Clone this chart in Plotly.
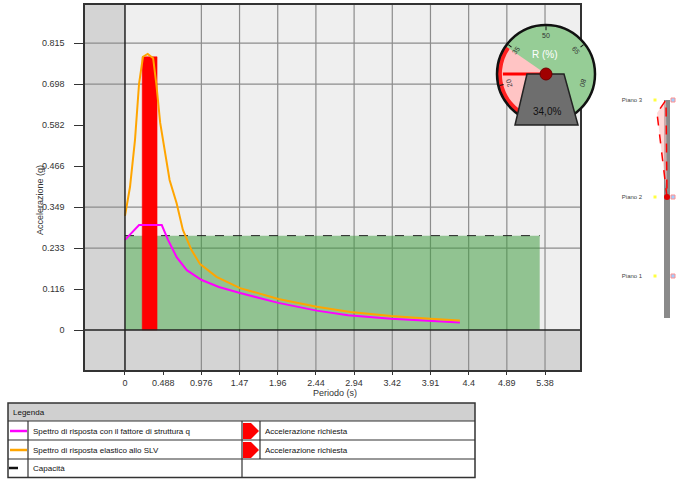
import math
import plotly.graph_objects as go

W, H = 698, 479

# ---- main spectrum data ----
period_orange = [0, 0.064, 0.128, 0.18, 0.23, 0.29, 0.36, 0.40, 0.45, 0.51, 0.57, 0.66, 0.74,
                 0.85, 0.96, 1.17, 1.47, 1.96, 2.45, 2.88, 3.4, 3.9, 4.28]
accel_orange = [0.324, 0.406, 0.54, 0.70, 0.776, 0.784, 0.772, 0.70, 0.588, 0.511, 0.426, 0.36, 0.284,
                0.227, 0.187, 0.151, 0.119, 0.088, 0.066, 0.051, 0.040, 0.032, 0.027]

period_magenta = [0, 0.09, 0.18, 0.47, 0.55, 0.66, 0.79, 0.98, 1.2, 1.47, 1.96, 2.45, 2.85, 3.4, 3.9, 4.28]
accel_magenta = [0.256, 0.277, 0.298, 0.298, 0.256, 0.207, 0.170, 0.142, 0.122, 0.105, 0.077, 0.055,
                 0.042, 0.032, 0.025, 0.021]

demand_period = 0.315
demand_width = 0.19
demand_accel = 0.776

capacity_period = [0, 5.30]
capacity_accel = [0.268, 0.268]

x_tickvals = [0, 0.488, 0.976, 1.464, 1.952, 2.44, 2.928, 3.416, 3.904, 4.392, 4.88, 5.368]
x_ticktext = ['0', '0.488', '0.976', '1.47', '1.96', '2.44', '2.94', '3.42', '3.91', '4.4', '4.89', '5.38']
y_tickvals = [0, 0.1164, 0.2328, 0.3492, 0.4656, 0.582, 0.6984, 0.8148]
y_ticktext = ['0', '0.116', '0.233', '0.349', '0.466', '0.582', '0.698', '0.815']
x_grid = [0.976, 1.464, 1.952, 2.44, 2.928, 3.416, 3.904, 4.392, 4.88, 5.368]
y_grid = [0.2328, 0.3492, 0.6984, 0.8148]

# ---- gauge ----
ratio_pct = 34.0
gauge_ticks = [20, 35, 50, 65, 80]
needle_deg = 180

# ---- storey diagram ----
levels = [4.2, 12.1, 21.8]
level_labels = ['Piano 1', 'Piano 2', 'Piano 3']
disp_height = [12.1, 14.5, 17.8, 20.5, 21.8]
disp_value = [0, -3, -7, -10, -1]


def px(x):
    return x / W


def py(y):
    return 1 - y / H


def gauge_theta(p):
    return 90 + (50 - p) * 52 / 15


FONT = "Liberation Sans, Arial, sans-serif"

fig = go.Figure()

# capacity area
fig.add_trace(go.Scatter(
    x=capacity_period, y=capacity_accel, mode='lines', fill='tozeroy',
    fillcolor='rgba(67,158,67,0.55)', line=dict(color='#222', width=1, dash='dash'),
    showlegend=False, hoverinfo='skip'))

# demand bar (drawn as a filled scatter so it sits above the capacity fill)
bx0 = demand_period - demand_width / 2
bx1 = demand_period + demand_width / 2
fig.add_trace(go.Scatter(
    x=[bx0, bx1, bx1, bx0, bx0], y=[0, 0, demand_accel, demand_accel, 0], mode='lines',
    fill='toself', fillcolor='#ff0000', line=dict(color='#ff0000', width=0.5), showlegend=False))

fig.add_trace(go.Scatter(
    x=period_magenta, y=accel_magenta, mode='lines',
    line=dict(color='#ff00ff', width=2), showlegend=False))
fig.add_trace(go.Scatter(
    x=period_orange, y=accel_orange, mode='lines',
    line=dict(color='#ffa500', width=2), showlegend=False))

# gauge (polar)
th0 = gauge_theta(ratio_pct)
th1 = gauge_theta(0)
fig.add_trace(go.Barpolar(
    r=[1], theta=[(th0 + th1) / 2], width=[th1 - th0], base=[0],
    marker=dict(color='#ffc4c4', line=dict(width=0)), subplot='polar', showlegend=False))
fig.add_trace(go.Barpolar(
    r=[0.1], theta=[(th0 + th1) / 2], width=[th1 - th0], base=[0.9],
    marker=dict(color='#ff2020', line=dict(width=0)), subplot='polar', showlegend=False))
fig.add_trace(go.Scatterpolar(
    r=[0, 0.88], theta=[needle_deg, needle_deg], mode='lines',
    line=dict(color='#ff0000', width=3), subplot='polar', showlegend=False))

# storey diagram
fig.add_trace(go.Scatter(
    x=[0, 0], y=[0, levels[-1]], mode='lines', line=dict(color='#8a8a8a', width=6),
    xaxis='x2', yaxis='y2', showlegend=False))
fig.add_trace(go.Scatter(
    x=disp_value + [0], y=disp_height + [disp_height[0]], mode='lines', fill='toself',
    fillcolor='rgba(255,190,190,0.6)', line=dict(color='#ff0000', width=1.5, dash='dash'),
    xaxis='x2', yaxis='y2', showlegend=False))
fig.add_trace(go.Scatter(
    x=[0], y=[disp_height[0]], mode='markers', marker=dict(color='#e00000', size=6),
    xaxis='x2', yaxis='y2', showlegend=False))
fig.add_trace(go.Scatter(
    x=[-12] * len(levels), y=levels, mode='markers', marker=dict(color='#ffff40', size=3, symbol='square'),
    xaxis='x2', yaxis='y2', showlegend=False))
fig.add_trace(go.Scatter(
    x=[6] * len(levels), y=levels, mode='markers',
    marker=dict(color='#9fd0ff', size=4, symbol='square', line=dict(color='#ff9090', width=1)),
    xaxis='x2', yaxis='y2', showlegend=False))
fig.add_trace(go.Scatter(
    x=[-35] * len(levels), y=levels, mode='text', text=level_labels,
    textfont=dict(size=6, color='#444', family=FONT),
    xaxis='x2', yaxis='y2', showlegend=False))

shapes = []
# white background for the storey diagram
shapes.append(dict(type='rect', xref='paper', yref='paper', x0=px(590), x1=1, y0=py(330), y1=py(90),
                   fillcolor='white', line=dict(width=0), layer='below'))
# gray margins inside the plot box
shapes.append(dict(type='rect', xref='x', yref='y', x0=-0.511, x1=0, y0=-0.1136, y1=0.923,
                   fillcolor='#d4d4d4', line=dict(width=0), layer='below'))
shapes.append(dict(type='rect', xref='x', yref='y', x0=-0.511, x1=5.815, y0=-0.1136, y1=0,
                   fillcolor='#d4d4d4', line=dict(width=0), layer='below'))
for g in x_grid:
    shapes.append(dict(type='line', xref='x', yref='y', x0=g, x1=g, y0=-0.1136, y1=0.923,
                       line=dict(color='#8c8c8c', width=1.2), layer='below'))
for g in y_grid:
    shapes.append(dict(type='line', xref='x', yref='y', x0=-0.511, x1=5.815, y0=g, y1=g,
                       line=dict(color='#8c8c8c', width=1.2), layer='below'))
shapes.append(dict(type='line', xref='x', yref='y', x0=0, x1=0, y0=-0.1136, y1=0.923,
                   line=dict(color='#222', width=1.5)))
shapes.append(dict(type='line', xref='x', yref='y', x0=-0.511, x1=5.815, y0=0, y1=0,
                   line=dict(color='#222', width=1.5)))

# gauge pedestal and hub
shapes.append(dict(type='path', xref='paper', yref='paper',
                   path=f"M{px(527)},{py(74)} L{px(564)},{py(74)} L{px(578)},{py(125)} L{px(515)},{py(125)} Z",
                   fillcolor='#6e6e6e', line=dict(color='#222', width=1.5)))
shapes.append(dict(type='circle', xref='paper', yref='paper',
                   x0=px(540), x1=px(552), y0=py(80), y1=py(68),
                   fillcolor='#a00000', line=dict(color='#700000', width=1)))


# legend table
def hline(y, x0, x1):
    shapes.append(dict(type='line', xref='paper', yref='paper', x0=px(x0), x1=px(x1),
                       y0=py(y), y1=py(y), line=dict(color='#333', width=1.2)))


def vline(x, y0, y1):
    shapes.append(dict(type='line', xref='paper', yref='paper', x0=px(x), x1=px(x),
                       y0=py(y0), y1=py(y1), line=dict(color='#333', width=1.2)))


shapes.append(dict(type='rect', xref='paper', yref='paper', x0=px(8), x1=px(475), y0=py(421), y1=py(403),
                   fillcolor='#d0d0d0', line=dict(width=0)))
shapes.append(dict(type='rect', xref='paper', yref='paper', x0=px(8), x1=px(475), y0=py(477.5), y1=py(403),
                   line=dict(color='#333', width=1.5)))
hline(421, 8, 475)
hline(440, 8, 475)
hline(459, 8, 475)
vline(28, 421, 477)
vline(242, 421, 477)
vline(260, 421, 459)
shapes.append(dict(type='line', xref='paper', yref='paper', x0=px(10), x1=px(27), y0=py(431), y1=py(431),
                   line=dict(color='#ff00ff', width=2.5)))
shapes.append(dict(type='line', xref='paper', yref='paper', x0=px(10), x1=px(27), y0=py(450), y1=py(450),
                   line=dict(color='#ffa500', width=2.5)))
shapes.append(dict(type='line', xref='paper', yref='paper', x0=px(9), x1=px(27), y0=py(468), y1=py(468),
                   line=dict(color='#111', width=2.5, dash='dash')))
for yc in (431, 450):
    shapes.append(dict(type='path', xref='paper', yref='paper',
                       path=f"M{px(243)},{py(yc - 8)} L{px(251)},{py(yc - 8)} L{px(259)},{py(yc)} "
                            f"L{px(251)},{py(yc + 8)} L{px(243)},{py(yc + 8)} Z",
                       fillcolor='#ff0000', line=dict(width=0)))


def label(text, x, y, size=8, color='#111', xanchor='center', **kw):
    return dict(text=text, x=px(x), y=py(y), xref='paper', yref='paper', showarrow=False,
                xanchor=xanchor, yanchor='middle', font=dict(size=size, color=color, family=FONT), **kw)


annotations = [
    label('Periodo (s)', 335, 393, size=9, color='#333'),
    label('Accelerazione (g)', 40, 200, size=9, color='#333', textangle=-90),
    label('R (%)', 545, 55, size=10, color='white'),
    label(f"{ratio_pct:.1f}%".replace('.', ','), 547, 111, size=10),
    label('Legenda', 11, 412, xanchor='left'),
    label('Spettro di risposta con il fattore di struttura q', 31, 431, xanchor='left'),
    label('Spettro di risposta elastico allo SLV', 31, 450, xanchor='left'),
    label('Capacità', 31, 468, xanchor='left'),
    label('Accelerazione richiesta', 263, 431, xanchor='left'),
    label('Accelerazione richiesta', 263, 450, xanchor='left'),
]
gx, gy, gr = 546, 74, 49
for t in gauge_ticks:
    a = math.radians(gauge_theta(t))
    annotations.append(label(str(t), gx + 0.78 * gr * math.cos(a), gy - 0.78 * gr * math.sin(a),
                             size=7, color='#333', textangle=90 - gauge_theta(t)))

fig.update_layout(
    width=W, height=H,
    margin=dict(l=0, r=0, t=0, b=0),
    paper_bgcolor='white',
    plot_bgcolor='#efefef',
    font=dict(family=FONT, size=9, color='#333'),
    showlegend=False,
    xaxis=dict(domain=[px(85), px(580)], range=[-0.511, 5.815], tickvals=x_tickvals, ticktext=x_ticktext,
               showgrid=False, zeroline=False, showline=True, mirror=True, linecolor='#333', linewidth=1.5,
               ticks='outside', ticklen=3, tickcolor='#333', tickfont=dict(size=9)),
    yaxis=dict(domain=[py(370), py(5)], range=[-0.1136, 0.923], tickvals=y_tickvals, ticktext=y_ticktext,
               showgrid=False, zeroline=False, showline=True, mirror=True, linecolor='#333', linewidth=1.5,
               ticks='outside', ticklen=9, tickcolor='#333', tickfont=dict(size=9), ticklabelstandoff=8),
    xaxis2=dict(domain=[px(600), 1], range=[-67, 31], visible=False, anchor='y2'),
    yaxis2=dict(domain=[py(322), py(95)], range=[-0.4, 22.3], visible=False, anchor='x2'),
    polar=dict(
        domain=dict(x=[px(gx - gr), px(gx + gr)], y=[py(gy + gr), py(gy - gr)]),
        bgcolor='#96cd96',
        radialaxis=dict(visible=False, range=[0, 1]),
        angularaxis=dict(rotation=0, direction='counterclockwise', showgrid=False, showline=True,
                         linecolor='#111', linewidth=2.5, ticks='inside', ticklen=4, tickcolor='#111',
                         tickvals=[gauge_theta(t) for t in gauge_ticks], showticklabels=False),
    ),
    shapes=shapes,
    annotations=annotations,
)

fig.write_html(
    "out.html",
    config={'displayModeBar': False},
    post_script="document.body.style.margin='0';document.body.style.overflow='hidden';",
)
